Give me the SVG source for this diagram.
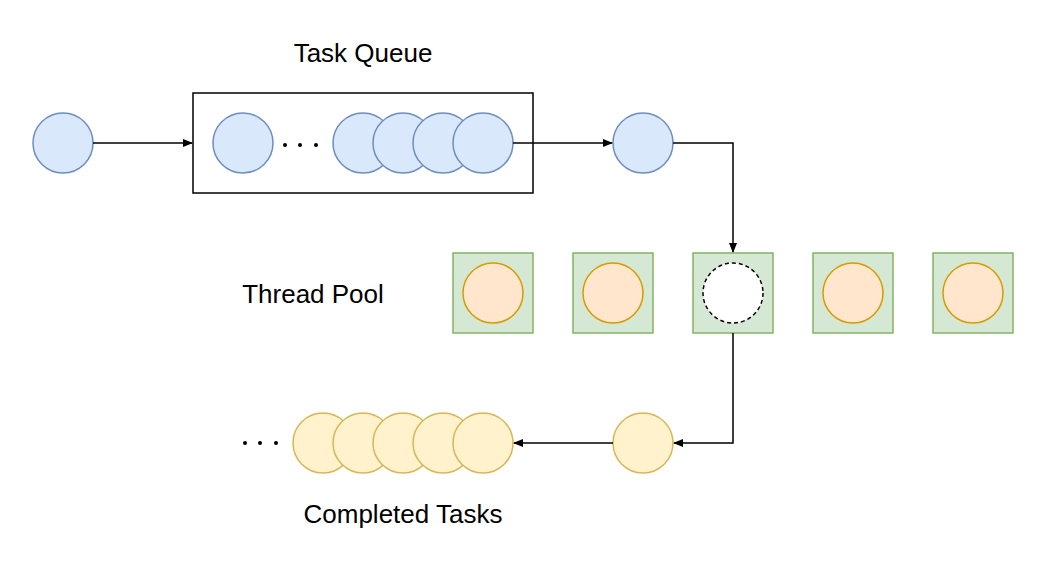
<svg xmlns="http://www.w3.org/2000/svg" width="1048" height="568" viewBox="0 0 1048 568">
<style>
.b{fill:#dae8fc;stroke:#6c8ebf;stroke-width:1.5}
.g{fill:#d5e8d4;stroke:#82b366;stroke-width:1.5}
.o{fill:#ffe6cc;stroke:#d79b00;stroke-width:1.5}
.y{fill:#fff2cc;stroke:#d6b656;stroke-width:1.5}
.t{font-family:"Liberation Sans",Arial,sans-serif;font-size:26px;fill:#000;text-anchor:middle}
.c{fill:none;stroke:#000;stroke-width:1.5}
</style>
<defs><marker id="a" markerWidth="10" markerHeight="8" refX="9" refY="4" orient="auto" markerUnits="userSpaceOnUse"><path d="M0,0L10,4L0,8z" fill="#000"/></marker></defs>
<rect fill="#fff" width="1048" height="568"/>
<g id="labels">
<text class="t" x="363" y="62">Task Queue</text>
<text class="t" x="313" y="303">Thread Pool</text>
<text class="t" x="403" y="523">Completed Tasks</text>
</g>
<g id="input"><circle class="b" cx="63" cy="143" r="30"/></g>
<g id="queue">
<rect x="193" y="93" width="340" height="100" fill="#fff" stroke="#000" stroke-width="1.5"/>
<circle class="b" cx="243" cy="143" r="30"/>
<circle cx="285" cy="145" r="2"/><circle cx="300" cy="145" r="2"/><circle cx="316" cy="145" r="2"/>
<circle class="b" cx="363" cy="143" r="30"/>
<circle class="b" cx="403" cy="143" r="30"/>
<circle class="b" cx="443" cy="143" r="30"/>
<circle class="b" cx="483" cy="143" r="30"/>
</g>
<g id="next"><circle class="b" cx="643" cy="143" r="30"/></g>
<g id="pool">
<rect class="g" x="453" y="253" width="80" height="80"/><circle class="o" cx="493" cy="293" r="30"/>
<rect class="g" x="573" y="253" width="80" height="80"/><circle class="o" cx="613" cy="293" r="30"/>
<rect class="g" x="693" y="253" width="80" height="80"/><circle cx="733" cy="293" r="30" fill="#fff" stroke="#000" stroke-width="1.5" stroke-dasharray="4 3"/>
<rect class="g" x="813" y="253" width="80" height="80"/><circle class="o" cx="853" cy="293" r="30"/>
<rect class="g" x="933" y="253" width="80" height="80"/><circle class="o" cx="973" cy="293" r="30"/>
</g>
<g id="done">
<circle class="y" cx="643" cy="443" r="30"/>
<circle cx="245" cy="443" r="2"/><circle cx="260" cy="443" r="2"/><circle cx="276" cy="443" r="2"/>
<circle class="y" cx="323" cy="443" r="30"/>
<circle class="y" cx="363" cy="443" r="30"/>
<circle class="y" cx="403" cy="443" r="30"/>
<circle class="y" cx="443" cy="443" r="30"/>
<circle class="y" cx="483" cy="443" r="30"/>
</g>
<g id="connectors">
<path class="c" d="M93,143H192" marker-end="url(#a)"/>
<path class="c" d="M513,143H612" marker-end="url(#a)"/>
<path class="c" d="M673,143H733V252" marker-end="url(#a)"/>
<path class="c" d="M733,333V443H674" marker-end="url(#a)"/>
<path class="c" d="M613,443H514" marker-end="url(#a)"/>
</g>
</svg>
